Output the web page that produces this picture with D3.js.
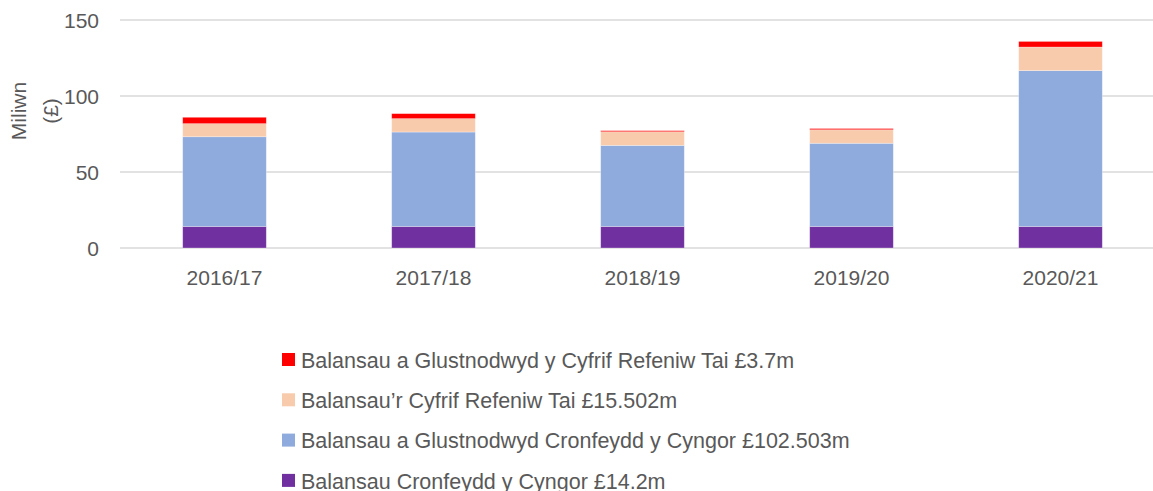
<!DOCTYPE html>
<html>
<head>
<meta charset="utf-8">
<script src="https://cdn.jsdelivr.net/npm/d3@7"></script>
<style>
  body { margin: 0; background: #fff; }
  svg text { font-family: "Liberation Sans", Arial, sans-serif; fill: #595959; }
</style>
</head>
<body>
<div id="chart"></div>
<script>
// Data (millions of £)
const years = ["2016/17", "2017/18", "2018/19", "2019/20", "2020/21"];
const seriesKeys = ["cyngor", "cyngorGlust", "crt", "crtGlust"];
const cyngor = [14.2, 14.2, 14.2, 14.2, 14.2];
const cyngorGlust = [59.0, 62.1, 53.3, 54.7, 102.5];
const crt = [8.6, 8.8, 9.0, 8.9, 15.5];
const crtGlust = [4.2, 3.3, 0.7, 0.8, 3.7];
const legendLabels = [
  "Balansau a Glustnodwyd y Cyfrif Refeniw Tai £3.7m",
  "Balansau’r Cyfrif Refeniw Tai £15.502m",
  "Balansau a Glustnodwyd Cronfeydd y Cyngor £102.503m",
  "Balansau Cronfeydd y Cyngor £14.2m"
];
const legendKeys = ["crtGlust", "crt", "cyngorGlust", "cyngor"];
const yTicks = [0, 50, 100, 150];

const config = {
  width: 1153,
  height: 491,
  margin: { top: 20, right: -12, bottom: 243, left: 120 }
};

const colors = {
  cyngor: "#7030a0",
  cyngorGlust: "#8faadc",
  crt: "#f8cbad",
  crtGlust: "#ff0000"
};

const table = years.map((y, i) => ({
  year: y,
  cyngor: cyngor[i],
  cyngorGlust: cyngorGlust[i],
  crt: crt[i],
  crtGlust: crtGlust[i]
}));

const svg = d3.select("#chart").append("svg")
  .attr("width", config.width)
  .attr("height", config.height);

const x = d3.scaleBand()
  .domain(years)
  .range([config.margin.left, config.width - config.margin.right])
  .paddingInner(0.6)
  .paddingOuter(0.3);

const y = d3.scaleLinear()
  .domain([0, 150])
  .range([config.height - config.margin.bottom, config.margin.top]);

// Gridlines
svg.append("g")
  .selectAll("line")
  .data(yTicks)
  .join("line")
  .attr("x1", config.margin.left)
  .attr("x2", config.width)
  .attr("y1", d => y(d))
  .attr("y2", d => y(d))
  .attr("stroke", "#d9d9d9")
  .attr("stroke-width", 1.5);

// Y tick labels
svg.append("g")
  .selectAll("text")
  .data(yTicks)
  .join("text")
  .attr("x", 99)
  .attr("y", d => y(d))
  .attr("dy", "0.36em")
  .attr("text-anchor", "end")
  .style("font-size", "21px")
  .text(d => d);

// Stacked bars
const stack = d3.stack().keys(seriesKeys)(table);

svg.append("g")
  .selectAll("g")
  .data(stack)
  .join("g")
  .attr("fill", d => colors[d.key])
  .selectAll("rect")
  .data(d => d)
  .join("rect")
  .attr("x", d => x(d.data.year))
  .attr("width", x.bandwidth())
  .attr("y", d => y(d[1]))
  .attr("height", d => y(d[0]) - y(d[1]))
  .attr("stroke", "#fff")
  .attr("stroke-opacity", 0.4)
  .attr("stroke-width", 0.75);

// X labels
svg.append("g")
  .selectAll("text")
  .data(years)
  .join("text")
  .attr("x", d => x(d) + x.bandwidth() / 2)
  .attr("y", 285)
  .attr("text-anchor", "middle")
  .style("font-size", "21px")
  .text(d => d);

// Y axis title (two lines)
const yTitle = svg.append("text")
  .attr("transform", "translate(26,111) rotate(-90)")
  .attr("text-anchor", "middle")
  .style("font-size", "21px");
yTitle.append("tspan").attr("x", 0).attr("dy", 0).text("Miliwn");
yTitle.append("tspan").attr("x", 0).attr("dy", 32).text("(£)");

// Legend
const legend = svg.append("g")
  .selectAll("g")
  .data(legendKeys)
  .join("g")
  .attr("transform", (d, i) => `translate(282, ${360 + i * 40.3})`);

legend.append("rect")
  .attr("x", 0)
  .attr("y", -7)
  .attr("width", 13)
  .attr("height", 13)
  .attr("fill", d => colors[d]);

legend.append("text")
  .attr("x", 19)
  .attr("y", 0)
  .attr("dy", "0.36em")
  .style("font-size", "21.5px")
  .text((d, i) => legendLabels[i]);
</script>
</body>
</html>
